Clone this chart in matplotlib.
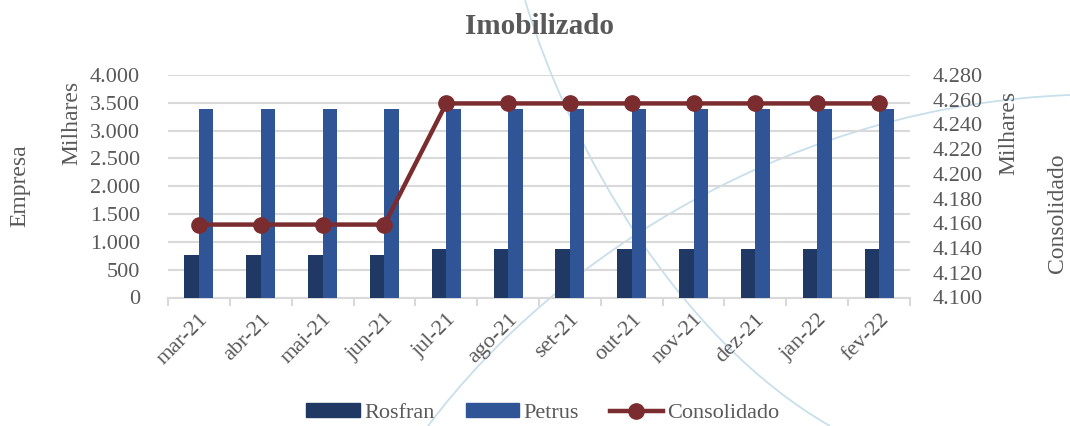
import matplotlib
matplotlib.use("Agg")
import matplotlib.pyplot as plt
import numpy as np
from matplotlib.lines import Line2D
from matplotlib.patches import Patch, PathPatch
from matplotlib.path import Path
from matplotlib.ticker import FuncFormatter, MultipleLocator

# dados (em milhares)
meses = ['mar-21', 'abr-21', 'mai-21', 'jun-21', 'jul-21', 'ago-21',
         'set-21', 'out-21', 'nov-21', 'dez-21', 'jan-22', 'fev-22']
rosfran = [770, 770, 770, 770, 870, 870, 870, 870, 870, 870, 870, 870]
petrus = [3390, 3390, 3390, 3390, 3390, 3390, 3390, 3390, 3390, 3390, 3390, 3390]
consolidado = [4159, 4159, 4159, 4159, 4257, 4257, 4257, 4257, 4257, 4257, 4257, 4257]

c_rosfran = '#1F3864'
c_petrus = '#2F5597'
c_cons = '#7B2C2F'
c_txt = '#595959'
c_grid = '#D9D9D9'

plt.rcParams['font.family'] = ['Liberation Serif', 'DejaVu Serif']

fig = plt.figure(figsize=(10.7, 4.26), dpi=100)
W, H = 1070, 426


def milhar(v, pos):
    return f'{v:,.0f}'.replace(',', '.')


def curva(pts):
    # smooth bezier decoration in figure pixel coords
    verts = [(px / W, 1 - py / H) for px, py in pts]
    p = Path(verts, [Path.MOVETO, Path.CURVE4, Path.CURVE4, Path.CURVE4])
    fig.add_artist(PathPatch(p, transform=fig.transFigure, fill=False,
                             edgecolor='#C8DFEC', lw=1.3, zorder=0))


curva([(525, 0), (570, 150), (680, 340), (830, 426)])
curva([(428, 426), (560, 250), (800, 105), (1070, 95)])

ax = fig.add_axes([168 / W, 1 - 297.5 / H, (910 - 168) / W, (297.5 - 75) / H])
ax.patch.set_alpha(0)
x = np.arange(len(meses))
w = 0.235
ax.bar(x - w / 2, rosfran, w, color=c_rosfran, zorder=3)
ax.bar(x + w / 2, petrus, w, color=c_petrus, zorder=3)
ax.set_ylim(0, 4000)
ax.set_xlim(-0.5, len(meses) - 0.5)
ax.yaxis.set_major_locator(MultipleLocator(500))
ax.yaxis.set_major_formatter(FuncFormatter(milhar))
ax.grid(axis='y', color=c_grid, lw=1.5, zorder=0)
for s in ['top', 'left', 'right']:
    ax.spines[s].set_visible(False)
ax.spines['bottom'].set_color(c_grid)
ax.spines['bottom'].set_linewidth(1.5)
ax.set_xticks(x)
ax.set_xticklabels(meses, rotation=45, ha='right', rotation_mode='anchor')
ax.set_xticks(np.arange(-0.5, len(meses)), minor=True)
ax.tick_params(axis='x', which='major', length=0, pad=9, labelsize=16, labelcolor=c_txt)
ax.tick_params(axis='x', which='minor', length=6, color=c_grid, width=1.5)
ax.tick_params(axis='y', length=0, pad=20, labelsize=16, labelcolor=c_txt)

ax2 = ax.twinx()
ax2.plot(x, consolidado, color=c_cons, lw=3.2, marker='o', markersize=11, zorder=5)
ax2.set_ylim(4100, 4280)
ax2.yaxis.set_major_locator(MultipleLocator(20))
ax2.yaxis.set_major_formatter(FuncFormatter(milhar))
for s in ax2.spines.values():
    s.set_visible(False)
ax2.tick_params(axis='y', length=0, pad=16, labelsize=16, labelcolor=c_txt)

fig.text(539 / W, 1 - 26 / H, 'Imobilizado', ha='center', va='center',
         fontsize=21, fontweight='bold', color=c_txt)
fig.text(20 / W, 1 - 186 / H, 'Empresa', rotation=90, ha='center', va='center',
         fontsize=17, color=c_txt)
fig.text(72 / W, 1 - 123 / H, 'Milhares', rotation=90, ha='center', va='center',
         fontsize=17, color=c_txt)
fig.text(1009 / W, 1 - 133 / H, 'Milhares', rotation=90, ha='center', va='center',
         fontsize=17, color=c_txt)
fig.text(1058 / W, 1 - 213 / H, 'Consolidado', rotation=90, ha='center', va='center',
         fontsize=17, color=c_txt)

handles = [Patch(color=c_rosfran, label='Rosfran'),
           Patch(color=c_petrus, label='Petrus'),
           Line2D([], [], color=c_cons, lw=3.2, marker='o', markersize=11, label='Consolidado')]
fig.legend(handles=handles, loc='center', bbox_to_anchor=(543 / W, 1 - 413 / H), ncol=3,
           frameon=False, fontsize=16, labelcolor=c_txt, handlelength=2.4,
           handleheight=0.6, handletextpad=0.2, columnspacing=1.4)

fig.savefig('out.png', dpi=100)
